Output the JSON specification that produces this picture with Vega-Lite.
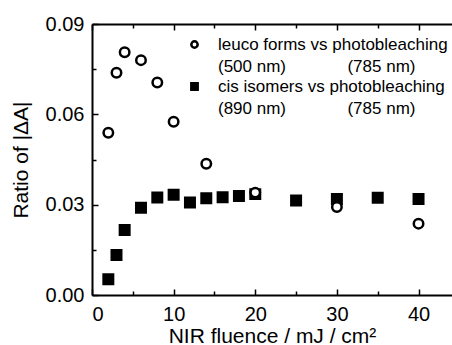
{
  "$schema": "https://vega.github.io/schema/vega-lite/v6.json",
  "width": 360,
  "height": 271,
  "autosize": {"type": "none"},
  "padding": {"left": 92, "top": 24, "right": 0, "bottom": 50},
  "background": "white",
  "config": {
    "view": {"stroke": null},
    "font": "Liberation Sans",
    "axis": {
      "domainColor": "black",
      "domainWidth": 2,
      "tickColor": "black",
      "tickWidth": 1.5,
      "labelColor": "black",
      "titleColor": "black",
      "labelFont": "Liberation Sans",
      "titleFont": "Liberation Sans",
      "labelFontSize": 20,
      "titleFontSize": 21,
      "titleFontWeight": "normal",
      "grid": false
    },
    "legend": {
      "orient": "none",
      "legendX": 94,
      "legendY": 12,
      "labelFontSize": 17,
      "labelFont": "Liberation Sans",
      "labelColor": "black",
      "labelLimit": 500,
      "labelOffset": 15,
      "symbolSize": 40,
      "symbolStrokeWidth": 2.5,
      "symbolStrokeColor": "black",
      "rowPadding": 2
    }
  },
  "data": {
    "values": [
      {"fluence": 2, "ratio": 0.0052, "series": "cis"},
      {"fluence": 3, "ratio": 0.0133, "series": "cis"},
      {"fluence": 4, "ratio": 0.0216, "series": "cis"},
      {"fluence": 6, "ratio": 0.0290, "series": "cis"},
      {"fluence": 8, "ratio": 0.0324, "series": "cis"},
      {"fluence": 10, "ratio": 0.0333, "series": "cis"},
      {"fluence": 12, "ratio": 0.0307, "series": "cis"},
      {"fluence": 14, "ratio": 0.0321, "series": "cis"},
      {"fluence": 16, "ratio": 0.0325, "series": "cis"},
      {"fluence": 18, "ratio": 0.0329, "series": "cis"},
      {"fluence": 20, "ratio": 0.0335, "series": "cis"},
      {"fluence": 25, "ratio": 0.0314, "series": "cis"},
      {"fluence": 30, "ratio": 0.0319, "series": "cis"},
      {"fluence": 35, "ratio": 0.0323, "series": "cis"},
      {"fluence": 40, "ratio": 0.0319, "series": "cis"},
      {"fluence": 2, "ratio": 0.0539, "series": "leuco"},
      {"fluence": 3, "ratio": 0.0738, "series": "leuco"},
      {"fluence": 4, "ratio": 0.0806, "series": "leuco"},
      {"fluence": 6, "ratio": 0.0780, "series": "leuco"},
      {"fluence": 8, "ratio": 0.0706, "series": "leuco"},
      {"fluence": 10, "ratio": 0.0575, "series": "leuco"},
      {"fluence": 14, "ratio": 0.0436, "series": "leuco"},
      {"fluence": 20, "ratio": 0.0340, "series": "leuco"},
      {"fluence": 30, "ratio": 0.0292, "series": "leuco"},
      {"fluence": 40, "ratio": 0.0237, "series": "leuco"}
    ]
  },
  "resolve": {"axis": {"x": "independent"}},
  "layer": [
    {
      "mark": {"type": "point", "filled": true, "stroke": "black", "strokeWidth": 2.5, "opacity": 1, "size": 90},
      "encoding": {
        "x": {
          "field": "fluence",
          "type": "quantitative",
          "scale": {"domain": [0, 44.1], "nice": false, "zero": false},
          "axis": {
            "values": [0, 5, 10, 15, 20, 25, 30, 35, 40],
            "labelExpr": "datum.value % 10 === 0 ? datum.label : ''",
            "tickSize": {"condition": {"test": "datum.value % 10 === 0", "value": -6}, "value": -4},
            "labelPadding": 15,
            "title": "NIR fluence / mJ / cm²",
            "titlePadding": 1
          }
        },
        "y": {
          "field": "ratio",
          "type": "quantitative",
          "scale": {"domain": [0, 0.09], "nice": false, "zero": false},
          "axis": {
            "values": [0, 0.015, 0.03, 0.045, 0.06, 0.075, 0.09],
            "format": ".2f",
            "labelExpr": "round(datum.value * 1000) % 30 === 0 ? datum.label : ''",
            "tickSize": {"condition": {"test": "round(datum.value * 1000) % 30 === 0", "value": -6}, "value": -4},
            "labelPadding": 14,
            "title": "Ratio of |ΔA|",
            "titlePadding": 14
          }
        },
        "shape": {
          "field": "series",
          "type": "nominal",
          "scale": {"domain": ["leuco", "cis"], "range": ["circle", "square"]},
          "legend": {
            "title": null,
            "labelExpr": "datum.value === 'leuco' ? ['leuco forms vs photobleaching', '\u00a0(500 nm)\u00a0\u00a0\u00a0\u00a0\u00a0\u00a0\u00a0\u00a0\u00a0\u00a0\u00a0\u00a0\u00a0(785 nm)'] : ['cis isomers vs photobleaching', '\u00a0(890 nm)\u00a0\u00a0\u00a0\u00a0\u00a0\u00a0\u00a0\u00a0\u00a0\u00a0\u00a0\u00a0\u00a0(785 nm)']",
            "encoding": {
              "symbols": {
                "stroke": {"value": "black"},
                "strokeWidth": {"value": 2.5},
                "fill": {"condition": {"test": "datum.value === 'leuco'", "value": "white"}, "value": "black"}
              },
              "labels": {"lineHeight": {"value": 22}}
            }
          }
        },
        "fill": {
          "field": "series",
          "type": "nominal",
          "scale": {"domain": ["leuco", "cis"], "range": ["white", "black"]},
          "legend": {
            "title": null,
            "labelExpr": "datum.value === 'leuco' ? ['leuco forms vs photobleaching', '\u00a0(500 nm)\u00a0\u00a0\u00a0\u00a0\u00a0\u00a0\u00a0\u00a0\u00a0\u00a0\u00a0\u00a0\u00a0(785 nm)'] : ['cis isomers vs photobleaching', '\u00a0(890 nm)\u00a0\u00a0\u00a0\u00a0\u00a0\u00a0\u00a0\u00a0\u00a0\u00a0\u00a0\u00a0\u00a0(785 nm)']",
            "encoding": {
              "symbols": {
                "stroke": {"value": "black"},
                "strokeWidth": {"value": 2.5},
                "fill": {"condition": {"test": "datum.value === 'leuco'", "value": "white"}, "value": "black"}
              },
              "labels": {"lineHeight": {"value": 22}}
            }
          }
        }
      }
    },
    {
      "mark": {"type": "point", "opacity": 0},
      "encoding": {
        "x": {
          "field": "fluence",
          "type": "quantitative",
          "scale": {"domain": [0, 44.1], "nice": false, "zero": false},
          "axis": {
            "orient": "top",
            "values": [0, 5, 10, 15, 20, 25, 30, 35, 40],
            "labels": false,
            "title": null,
            "tickSize": {"condition": {"test": "datum.value % 10 === 0", "value": -6}, "value": -4}
          }
        }
      }
    }
  ]
}
